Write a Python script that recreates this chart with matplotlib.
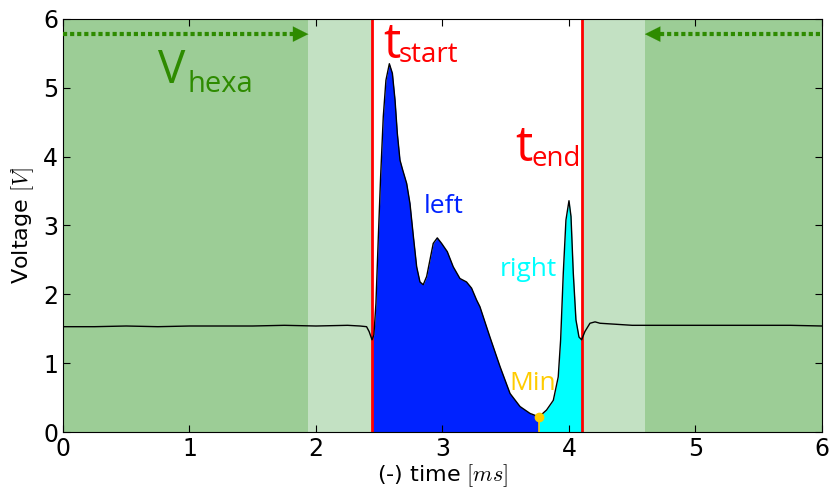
import matplotlib
matplotlib.use("Agg")
import matplotlib.pyplot as plt
import numpy as np

plt.rcParams['font.family'] = ['DejaVu Sans']
plt.rcParams['mathtext.fontset'] = 'cm'

# waveform samples (time in ms, voltage in V)
time = [0.00, 0.25, 0.50, 0.75, 1.00, 1.25, 1.50, 1.75, 2.00, 2.25, 2.348,
        2.40, 2.42, 2.443, 2.458, 2.474, 2.493, 2.511, 2.532, 2.553, 2.580,
        2.604, 2.625, 2.643, 2.664, 2.685, 2.717, 2.743, 2.770, 2.796, 2.822,
        2.848, 2.875, 2.901, 2.927, 2.959, 2.993, 3.038, 3.085, 3.138, 3.190,
        3.230, 3.269, 3.296, 3.375, 3.455, 3.534, 3.613, 3.692, 3.763, 3.823,
        3.876, 3.915, 3.934, 3.955, 3.976, 4.000, 4.016, 4.034, 4.055, 4.079,
        4.100, 4.126, 4.166, 4.206, 4.245, 4.50, 4.75, 5.00, 5.25, 5.50,
        5.75, 6.00]
voltage = [1.53, 1.53, 1.54, 1.53, 1.54, 1.54, 1.54, 1.55, 1.54, 1.55, 1.54,
           1.53, 1.46, 1.34, 1.41, 1.87, 2.84, 3.71, 4.58, 5.11, 5.35,
           5.21, 4.82, 4.34, 3.95, 3.81, 3.61, 3.32, 2.84, 2.40, 2.18,
           2.14, 2.26, 2.50, 2.74, 2.82, 2.74, 2.62, 2.40, 2.23, 2.18,
           2.09, 1.92, 1.82, 1.38, 0.95, 0.56, 0.37, 0.27, 0.22, 0.32,
           0.46, 0.80, 1.34, 2.31, 3.08, 3.36, 3.13, 2.31, 1.63, 1.38,
           1.34, 1.46, 1.58, 1.60, 1.58, 1.55, 1.55, 1.55, 1.55, 1.55,
           1.55, 1.54]

t_start = 2.443
t_end = 4.100
t_min = 3.763
v_min = 0.22
hexa_left = 1.94
hexa_right = 4.60

x = np.array(time)
y = np.array(voltage)

fig = plt.figure(figsize=(8.34, 4.93), dpi=100)
ax = fig.add_axes([0.0755, 0.1237, 0.9101, 0.8378])

dark_green = '#9ccd96'
light_green = '#c3e1c3'
ax.axvspan(0, hexa_left, color=dark_green, lw=0, zorder=0)
ax.axvspan(hexa_left, t_start, color=light_green, lw=0, zorder=0)
ax.axvspan(t_end, hexa_right, color=light_green, lw=0, zorder=0)
ax.axvspan(hexa_right, 6, color=dark_green, lw=0, zorder=0)

ax.fill_between(x, 0, y, where=(x >= t_start) & (x <= t_min), color='#0022ff', lw=0, zorder=1)
ax.fill_between(x, 0, y, where=(x >= t_min) & (x <= t_end), color='#00ffff', lw=0, zorder=1)
ax.plot(x, y, color='black', lw=1, zorder=3, solid_joinstyle='round')

ax.axvline(t_start, color='red', lw=2, zorder=2)
ax.axvline(t_end, color='red', lw=2, zorder=2)

ax.plot([t_min, t_min], [0, v_min], color='#ffcc00', lw=1.2, zorder=4)
ax.plot([t_min], [v_min], 'o', color='#ffcc00', ms=6, mec='#ffcc00', zorder=5)

arrow_green = '#2e8b00'
ay = 5.78
ax.plot([0, hexa_left - 0.12], [ay, ay], color=arrow_green, lw=3, ls=(0, (1, 0.7)), zorder=3)
ax.annotate('', xy=(hexa_left, ay), xytext=(hexa_left - 0.14, ay),
            arrowprops=dict(arrowstyle='-|>,head_length=1.1,head_width=0.55',
                            color=arrow_green, lw=0.1, shrinkA=0, shrinkB=0), zorder=4)
ax.plot([hexa_right + 0.12, 6], [ay, ay], color=arrow_green, lw=3, ls=(0, (1, 0.7)), zorder=3)
ax.annotate('', xy=(hexa_right, ay), xytext=(hexa_right + 0.14, ay),
            arrowprops=dict(arrowstyle='-|>,head_length=1.1,head_width=0.55',
                            color=arrow_green, lw=0.1, shrinkA=0, shrinkB=0), zorder=4)

ann_font = ['Open Sans', 'DejaVu Sans']


def sub_label(xd, yd, main, sub, color, main_size, sub_size, dx, dy):
    ax.text(xd, yd, main, color=color, fontsize=main_size, ha='left',
            va='baseline', family=ann_font)
    ax.annotate(sub, xy=(xd, yd), xytext=(dx, dy), textcoords='offset pixels',
                color=color, fontsize=sub_size, ha='left', va='baseline',
                family=ann_font)


sub_label(0.75, 5.07, 'V', 'hexa', arrow_green, 33, 21, 30, -9)
sub_label(2.53, 5.43, 't', 'start', 'red', 35, 20, 16, -4)
sub_label(3.575, 3.93, 't', 'end', 'red', 35, 20, 16, -5)

ax.text(3.01, 3.18, 'left', color='#0022ff', fontsize=19, ha='center', va='baseline', family=ann_font)
ax.text(3.68, 2.26, 'right', color='#00ffff', fontsize=19, ha='center', va='baseline', family=ann_font)
ax.text(3.71, 0.61, 'Min', color='#ffcc00', fontsize=19, ha='center', va='baseline', family=ann_font)

ax.set_xlim(0, 6)
ax.set_ylim(0, 6)
ax.set_xticks(range(7))
ax.set_yticks(range(7))
ax.tick_params(direction='in', top=True, right=True, labelsize=17, length=5)
ax.set_xlabel(r'(-) time $[ms]$', fontsize=16, labelpad=1)
ax.set_ylabel(r'Voltage $[V]$', fontsize=16, labelpad=5)

fig.savefig('out.png', dpi=100)
